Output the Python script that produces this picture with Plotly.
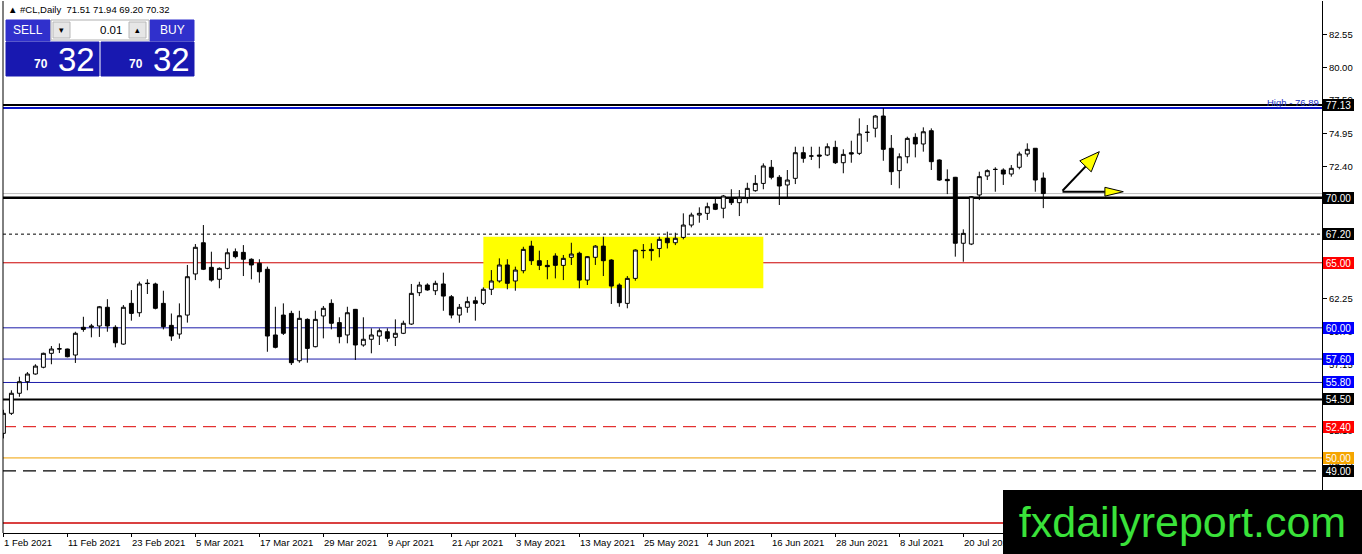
import plotly.graph_objects as go

# daily bars #CL, 1 Feb 2021 .. 3 Aug 2021 (bar index = position on the chart)
opens = [51.89, 53.43, 54.97, 55.86, 56.45, 56.97, 58.04, 58.37, 58.37, 57.91,
         60.04, 60.04, 60.14, 61.58, 60.04, 58.75, 61.88, 61.16, 63.40, 63.37,
         61.88, 60.19, 59.52, 60.98, 64.14, 66.54, 64.65, 63.73, 64.57, 65.85,
         65.80, 65.27, 64.96, 64.50, 59.45, 60.98, 61.11, 57.47, 60.65, 58.55,
         60.91, 61.88, 60.40, 59.45, 61.42, 58.68, 59.12, 59.37, 59.70, 59.27,
         59.58, 60.29, 62.70, 63.29, 62.85, 63.37, 62.39, 60.98, 61.58, 62.08,
         61.88, 62.96, 63.60, 64.83, 63.60, 64.39, 66.28, 65.16, 64.80, 65.52,
         64.80, 65.42, 65.73, 63.67, 65.42, 66.28, 65.21, 63.29, 61.88, 63.80,
         65.93, 66.03, 66.10, 66.88, 66.54, 66.95, 67.90, 68.67, 68.80, 69.52,
         69.19, 69.95, 69.62, 70.03, 70.54, 71.10, 72.34, 71.57, 70.98, 71.49,
         73.46, 73.20, 73.28, 73.28, 73.87, 72.69, 73.46, 73.41, 75.02, 75.34,
         76.28, 73.80, 72.08, 73.15, 74.64, 74.13, 75.15, 72.90, 71.41, 71.57,
         66.50, 66.44, 70.21, 71.67, 72.17, 72.13, 71.82, 72.34, 73.36, 73.80,
         71.51]
highs = [53.70, 55.20, 56.24, 56.60, 57.20, 58.09, 58.60, 58.80, 58.40, 59.70,
         60.85, 60.30, 61.68, 62.20, 60.20, 61.75, 62.90, 63.55, 63.73, 63.47,
         62.85, 61.10, 61.88, 64.83, 66.44, 67.90, 65.85, 64.65, 66.10, 66.10,
         66.36, 65.34, 65.27, 64.70, 61.62, 61.88, 61.31, 61.31, 60.73, 61.31,
         61.68, 62.19, 60.81, 61.62, 61.45, 60.81, 59.96, 59.96, 59.96, 60.65,
         60.55, 63.37, 63.54, 63.42, 63.62, 64.24, 62.52, 61.83, 62.39, 62.39,
         63.11, 64.44, 65.34, 65.27, 64.70, 66.23, 66.69, 65.93, 65.21, 65.73,
         65.60, 66.54, 65.85, 65.52, 66.36, 67.00, 65.27, 63.42, 63.98, 66.03,
         66.44, 66.50, 67.00, 67.39, 67.31, 68.80, 68.85, 69.26, 69.62, 69.95,
         70.21, 70.65, 70.59, 71.15, 71.74, 72.64, 72.90, 71.74, 72.13, 73.92,
         73.92, 73.92, 73.92, 74.18, 74.38, 73.72, 74.38, 76.10, 75.59, 76.36,
         76.89, 74.82, 73.41, 74.69, 74.95, 75.41, 75.33, 72.95, 72.18, 71.60,
         67.57, 70.13, 72.00, 72.18, 72.34, 72.26, 72.51, 73.54, 74.18, 73.80,
         71.94]
lows = [51.50, 53.30, 54.70, 55.20, 56.40, 56.89, 57.20, 58.06, 57.73, 57.30,
        59.70, 59.27, 59.30, 59.70, 58.50, 58.70, 60.55, 60.85, 62.60, 61.42,
        59.88, 59.00, 59.16, 60.40, 63.67, 64.44, 63.55, 63.04, 64.50, 65.34,
        63.98, 63.73, 63.47, 58.16, 58.42, 59.45, 57.14, 57.32, 57.32, 58.50,
        59.19, 59.88, 58.81, 58.81, 57.53, 58.55, 58.04, 58.68, 58.93, 58.60,
        59.52, 60.22, 62.44, 62.85, 62.52, 61.31, 60.73, 60.39, 61.16, 60.55,
        61.75, 62.52, 63.47, 62.96, 62.85, 64.19, 64.83, 64.44, 63.73, 63.80,
        63.67, 64.83, 63.04, 63.29, 64.83, 63.98, 61.83, 61.62, 61.50, 63.62,
        65.34, 65.16, 65.42, 66.10, 66.36, 66.80, 67.72, 68.08, 68.29, 69.05,
        68.42, 69.44, 68.59, 69.57, 70.46, 70.65, 71.41, 69.44, 70.03, 71.05,
        72.69, 72.90, 72.26, 73.20, 72.59, 71.88, 72.69, 73.28, 74.30, 74.64,
        72.84, 70.98, 70.72, 72.64, 73.10, 73.54, 72.13, 71.30, 70.28, 65.47,
        65.08, 66.36, 69.82, 71.36, 70.46, 70.98, 71.62, 72.18, 73.15, 70.46,
        69.20]
closes = [53.43, 54.97, 55.86, 56.45, 57.06, 58.04, 58.37, 58.39, 57.78, 59.58,
          59.88, 60.14, 61.62, 60.14, 58.85, 61.58, 61.11, 63.37, 63.42, 61.50,
          60.09, 59.37, 60.93, 63.93, 66.19, 64.50, 63.67, 64.57, 65.77, 65.47,
          65.27, 64.83, 64.31, 59.37, 58.50, 59.58, 57.32, 60.73, 58.42, 60.65,
          61.50, 60.35, 59.32, 61.16, 58.68, 59.12, 59.45, 59.78, 59.19, 59.58,
          60.35, 62.65, 63.29, 62.91, 63.42, 62.44, 60.98, 61.58, 62.01, 61.88,
          62.96, 63.60, 64.83, 63.42, 64.44, 66.03, 65.16, 64.80, 64.70, 64.80,
          65.34, 65.67, 63.67, 65.47, 66.28, 65.16, 63.21, 61.93, 63.80, 65.98,
          65.95, 65.93, 66.80, 66.54, 66.88, 67.90, 68.67, 68.80, 69.31, 69.11,
          70.13, 69.62, 70.03, 70.72, 71.10, 72.44, 71.57, 70.90, 71.36, 73.46,
          73.03, 73.21, 73.20, 73.92, 72.69, 73.33, 73.36, 74.90, 75.03, 76.28,
          73.72, 72.00, 73.15, 74.56, 74.13, 75.07, 72.77, 71.36, 71.31, 66.50,
          67.26, 70.08, 71.62, 72.08, 72.18, 71.82, 72.26, 73.36, 73.72, 71.36,
          70.32]

date_labels = ["1 Feb 2021", "11 Feb 2021", "23 Feb 2021", "5 Mar 2021", "17 Mar 2021",
               "29 Mar 2021", "9 Apr 2021", "21 Apr 2021", "3 May 2021", "13 May 2021",
               "25 May 2021", "4 Jun 2021", "16 Jun 2021", "28 Jun 2021", "8 Jul 2021",
               "20 Jul 2021"]
price_ticks = [82.55, 80.00, 77.50, 74.95, 72.40, 69.85, 67.30, 64.75, 62.25,
               59.70, 57.15, 54.60, 52.10, 49.55, 47.00, 44.45]
# grid prices whose labels sit fully under a level box or the watermark
hidden_ticks = [69.85, 67.30, 54.60, 47.00, 44.45]

# horizontal levels drawn on the chart
level_prices = [77.13, 70.00, 67.20, 65.00, 60.00, 57.60, 55.80, 54.50, 52.40, 50.00, 49.00, 45.00]
high_price = 76.89
bid_price = 70.32
zone_bars = [60, 95]
zone_prices = [63.04, 67.00]

# (line colour, width, dash, label box colour)
level_styles = [("black", 2, "solid", "black"),
                ("black", 2.5, "solid", "black"),
                ("black", 1, "3px,3px", "black"),
                ("#cc0000", 1, "solid", "#ff0000"),
                ("#1c1caa", 1, "solid", "#0000ff"),
                ("#1c1caa", 1, "solid", "#0000ff"),
                ("#1c1caa", 1, "solid", "#0000ff"),
                ("black", 2, "solid", "black"),
                ("#dd0000", 1, "13px,7px", "#ff0000"),
                ("#f0a000", 1, "solid", "#f5a500"),
                ("black", 1.2, "13px,7px", "black"),
                ("#cc0000", 1.5, "solid", None)]

FONT = "Liberation Sans"
W, H = 1362, 554
L, R, T, B = 3, 40, 1, 21


def px(x):
    return (x - L) / (W - L - R)


def py(y):
    return (H - B - y) / (H - T - B)


bars = list(range(len(opens)))

fig = go.Figure()
fig.add_trace(go.Candlestick(
    x=bars, open=opens, high=highs, low=lows, close=closes,
    increasing=dict(line=dict(color="black", width=1), fillcolor="white"),
    decreasing=dict(line=dict(color="black", width=1), fillcolor="black"),
    whiskerwidth=0, showlegend=False, hoverinfo="skip"))

shapes = []
annotations = []

# yellow zone
shapes.append(dict(type="rect", xref="x", yref="y", x0=zone_bars[0], x1=zone_bars[1],
                   y0=zone_prices[0], y1=zone_prices[1], fillcolor="#ffff00",
                   line=dict(width=0), layer="below"))

# bid line
shapes.append(dict(type="line", xref="paper", yref="y", x0=0, x1=1, y0=bid_price, y1=bid_price,
                   line=dict(color="#c0c0c0", width=1), layer="below"))

# levels
for p, (col, wd, dash, box) in zip(level_prices, level_styles):
    shapes.append(dict(type="line", xref="paper", yref="y", x0=0, x1=1, y0=p, y1=p,
                       line=dict(color=col, width=wd, dash=dash), layer="below"))

shapes.append(dict(type="line", xref="paper", yref="y", x0=0, x1=1, y0=high_price, y1=high_price,
                   line=dict(color="#0a14c8", width=2), layer="below"))
annotations.append(dict(xref="paper", yref="y", x=1, y=high_price, xanchor="right", yanchor="bottom",
                        text="High - %.2f" % high_price, showarrow=False, xshift=-1, yshift=-2,
                        font=dict(family=FONT, size=9.5, color="#2030c0")))

for p, (col, wd, dash, box) in zip(level_prices, level_styles):
    if box is None:
        continue
    annotations.append(dict(xref="paper", yref="y", x=1, y=p, xanchor="left", yanchor="middle",
                            text="%.2f" % p, showarrow=False, xshift=1, bgcolor=box,
                            width=29, height=10, borderpad=1, borderwidth=0, align="center",
                            font=dict(family=FONT, size=10, color="white")))

# left frame
shapes.append(dict(type="line", xref="paper", yref="paper", x0=0, x1=0, y0=0, y1=1,
                   line=dict(color="black", width=1)))

# arrows drawn on the chart
shapes.append(dict(type="line", xref="x", yref="y", x0=132.4, y0=70.54, x1=135.3, y1=72.41,
                   line=dict(color="black", width=2)))
shapes.append(dict(type="path", xref="x", yref="y",
                   path="M 137.0,73.54 L 135.99,71.99 L 134.56,72.84 Z",
                   fillcolor="#ffff00", line=dict(color="black", width=1)))
shapes.append(dict(type="line", xref="x", yref="y", x0=132.4, y0=70.46, x1=137.7, y1=70.46,
                   line=dict(color="black", width=2)))
shapes.append(dict(type="path", xref="x", yref="y",
                   path="M 137.7,70.80 L 140.0,70.46 L 137.7,70.12 Z",
                   fillcolor="#ffff00", line=dict(color="black", width=1)))


# one-click trading panel
def box(x0, y0, x1, y1, fill, edge=None):
    shapes.append(dict(type="rect", xref="paper", yref="paper", x0=px(x0), x1=px(x1),
                       y0=py(y1), y1=py(y0), fillcolor=fill,
                       line=dict(color=edge or fill, width=1)))


def label(x, y, text, size, color="white", anchor="center"):
    annotations.append(dict(xref="paper", yref="paper", x=px(x), y=py(y), text=text,
                            showarrow=False, xanchor=anchor, yanchor="middle",
                            font=dict(family=FONT, size=size, color=color)))


box(6, 20, 50, 41, "#3030cc")
box(150, 20, 194, 41, "#3030cc")
box(51, 20, 149, 40, "white", "#b0b0b0")
box(53, 22, 70, 38, "#e6e6e6", "#b8b8b8")
box(129, 22, 146, 38, "#e6e6e6", "#b8b8b8")
box(6, 42, 99, 76, "#1818b0")
box(101, 42, 194, 76, "#1818b0")
label(28, 30.5, "SELL", 12)
label(172, 30.5, "BUY", 12)
label(61.5, 30, "▾", 9, "black")
label(137.5, 30, "▴", 9, "black")
label(124, 30.5, "0.01", 11.5, "black", "right")
for x0 in (6, 101):
    label(x0 + 44, 64, "<b>70</b>", 12, anchor="right")
    label(x0 + 50, 59, "32", 33, anchor="left")

label(6, 9, "▲ #CL,Daily  %.2f %.2f %.2f %.2f" % (opens[-1], highs[-1], lows[-1], closes[-1]),
      9.5, "black", "left")

# date labels start at their tick, as in the terminal
tick_bars = bars[0:len(date_labels) * 8:8]
for b, t in zip(tick_bars, date_labels):
    annotations.append(dict(xref="x", yref="paper", x=b, y=0, xanchor="left", yanchor="top",
                            text=t, showarrow=False, yshift=-2, xshift=-1,
                            font=dict(family=FONT, size=9.5, color="black")))

# watermark
annotations.append(dict(xref="paper", yref="paper", x=px(1003), y=py(490), xanchor="left",
                        yanchor="top", text="fxdailyreport.com", showarrow=False,
                        width=359, height=64, bgcolor="black", borderpad=0, borderwidth=0,
                        valign="middle", align="center",
                        font=dict(family=FONT, size=43, color="#3ae23a")))

fig.update_layout(
    width=W, height=H,
    margin=dict(l=L, r=R, t=T, b=B, pad=0),
    paper_bgcolor="white", plot_bgcolor="white",
    shapes=shapes, annotations=annotations,
    showlegend=False,
    xaxis=dict(range=[-0.05, 164.84], rangeslider=dict(visible=False),
               showgrid=False, zeroline=False, showline=True, linecolor="black", linewidth=1,
               tickmode="array", tickvals=tick_bars, showticklabels=False,
               ticks="outside", ticklen=3, tickcolor="black"),
    yaxis=dict(range=[44.23, 85.12], side="right", showgrid=False, zeroline=False,
               showline=True, linecolor="black", linewidth=1,
               tickmode="array", tickvals=price_ticks,
               ticktext=["" if v in hidden_ticks else "%.2f" % v for v in price_ticks],
               ticks="outside", ticklen=4, tickcolor="black",
               tickfont=dict(family=FONT, size=9.5, color="black")),
)

fig.write_html("out.html", config={"displayModeBar": False},
               post_script="document.body.style.margin = '0';")
